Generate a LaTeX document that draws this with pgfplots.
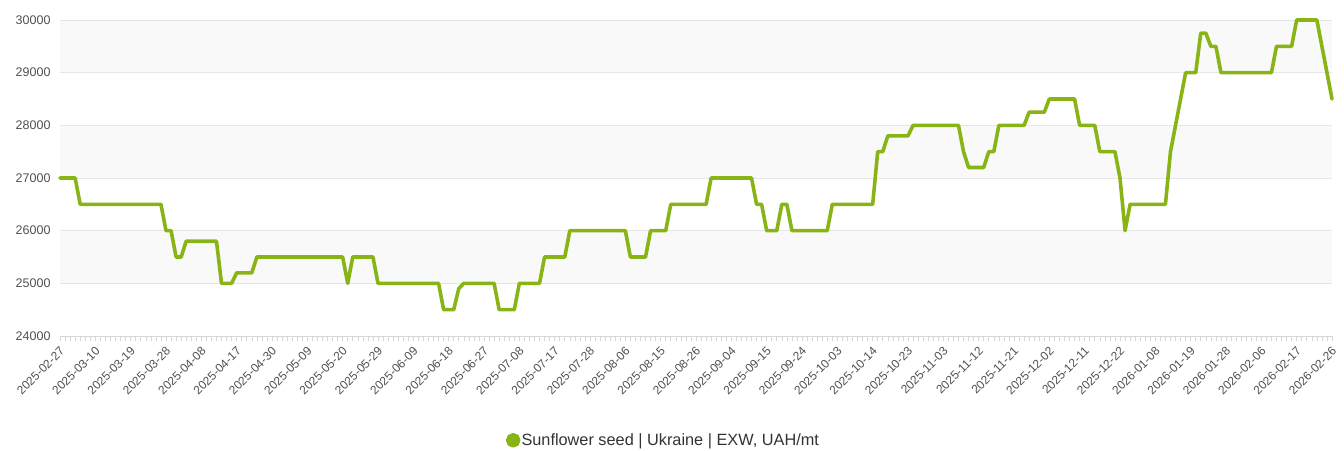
\documentclass[border=0pt]{standalone}
\usepackage{fontspec}
\setmainfont{Liberation Sans}
\usepackage{pgfplots}
\pgfplotsset{compat=1.18}
\definecolor{linegreen}{RGB}{137,180,22}
\definecolor{bandgrey}{RGB}{249,249,249}
\definecolor{gridgrey}{RGB}{230,230,230}
\definecolor{axisgrey}{RGB}{214,214,214}
\definecolor{ticktext}{RGB}{80,80,80}
\definecolor{legtext}{RGB}{51,51,51}
\begin{document}
\begin{tikzpicture}
\begin{axis}[
  scale only axis,
  width=1272pt, height=316pt,
  xmin=0, xmax=252, ymin=24000, ymax=30000,
  ytick={24000,25000,...,30000},
  /pgf/number format/assume math mode=true,
  yticklabel style={/pgf/number format/.cd, fixed, 1000 sep={}, /tikz/.cd, font=\fontsize{12.5}{14}\selectfont, text=ticktext, xshift=-1pt},
  scaled y ticks=false,
  ymajorgrids, grid style={gridgrey, line width=0.8pt},
  xtick={0,7,...,252},
  minor xtick={0,1,...,252},
  xticklabels={2025-02-27,2025-03-10,2025-03-19,2025-03-28,2025-04-08,2025-04-17,2025-04-30,2025-05-09,2025-05-20,2025-05-29,2025-06-09,2025-06-18,2025-06-27,2025-07-08,2025-07-17,2025-07-28,2025-08-06,2025-08-15,2025-08-26,2025-09-04,2025-09-15,2025-09-24,2025-10-03,2025-10-14,2025-10-23,2025-11-03,2025-11-12,2025-11-21,2025-12-02,2025-12-11,2025-12-22,2026-01-08,2026-01-19,2026-01-28,2026-02-06,2026-02-17,2026-02-26},
  xticklabel style={rotate=45, anchor=north east, font=\fontsize{12}{13}\selectfont, text=ticktext, inner sep=1pt, yshift=-2pt, xshift=-3pt},
  tick align=outside,
  major tick length=5pt, minor tick length=5pt,
  x tick style={axisgrey, line width=0.6pt},
  minor x tick style={axisgrey, line width=0.6pt},
  y tick style={draw=none},
  axis y line*=left,
  y axis line style={draw=none},
  axis x line*=bottom,
  x axis line style={axisgrey, line width=0.8pt, -},
  legend style={at={(0.474,-0.33)}, anchor=center, draw=none, fill=none, font=\fontsize{16.3}{18}\selectfont, text=legtext, nodes={inner sep=1pt}},
  legend image code/.code={\fill[linegreen] (4pt,0pt) circle (5.5pt);},
  clip=false,
]
\fill[bandgrey] (axis cs:0,29000) rectangle (axis cs:252,30000);
\fill[bandgrey] (axis cs:0,27000) rectangle (axis cs:252,28000);
\fill[bandgrey] (axis cs:0,25000) rectangle (axis cs:252,26000);
\draw[gridgrey, line width=0.8pt] (axis cs:0,30000) -- (axis cs:252,30000);
\draw[gridgrey, line width=0.8pt] (axis cs:0,29000) -- (axis cs:252,29000);
\draw[gridgrey, line width=0.8pt] (axis cs:0,28000) -- (axis cs:252,28000);
\draw[gridgrey, line width=0.8pt] (axis cs:0,27000) -- (axis cs:252,27000);
\draw[gridgrey, line width=0.8pt] (axis cs:0,26000) -- (axis cs:252,26000);
\draw[gridgrey, line width=0.8pt] (axis cs:0,25000) -- (axis cs:252,25000);
\addplot[linegreen, line width=3.6pt, line join=round, line cap=round, mark=none] coordinates {
(0,27000) (3,27000) (4,26500) (20,26500) (21,26000) (22,26000) (23,25500) (24,25500)
(25,25800) (31,25800) (32,25000) (34,25000) (35,25200) (38,25200) (39,25500) (56,25500)
(57,25000) (58,25500) (62,25500) (63,25000) (75,25000) (76,24500) (78,24500) (79,24900)
(80,25000) (86,25000) (87,24500) (90,24500) (91,25000) (95,25000) (96,25500) (100,25500)
(101,26000) (112,26000) (113,25500) (116,25500) (117,26000) (120,26000) (121,26500) (128,26500)
(129,27000) (137,27000) (138,26500) (139,26500) (140,26000) (142,26000) (143,26500) (144,26500)
(145,26000) (152,26000) (153,26500) (161,26500) (162,27500) (163,27500) (164,27800) (168,27800)
(169,28000) (178,28000) (179,27500) (180,27200) (183,27200) (184,27500) (185,27500) (186,28000)
(191,28000) (192,28250) (195,28250) (196,28500) (201,28500) (202,28000) (205,28000) (206,27500)
(209,27500) (210,27000) (211,26000) (212,26500) (219,26500) (220,27500) (223,29000) (225,29000)
(226,29750) (227,29750) (228,29500) (229,29500) (230,29000) (240,29000) (241,29500) (244,29500)
(245,30000) (249,30000) (252,28500)
};
\addlegendentry{Sunflower seed | Ukraine | EXW, UAH/mt}
\end{axis}
\pgfresetboundingbox
\path[use as bounding box] (current axis.south west) ++(-60pt,-114pt) rectangle ++(1344pt,450pt);
\end{tikzpicture}
\end{document}
